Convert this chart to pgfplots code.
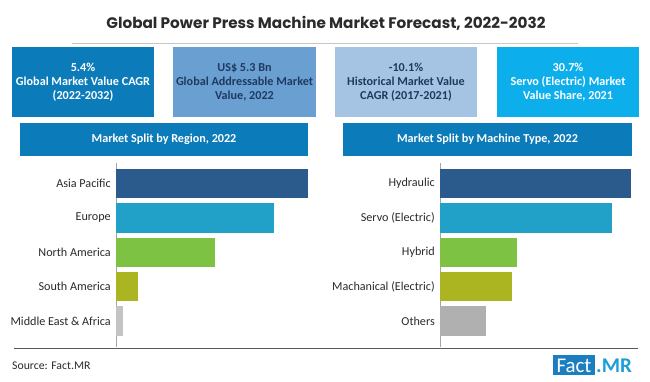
\documentclass[border=0pt]{standalone}
\usepackage{pgfplots}
\pgfplotsset{compat=1.18}
\usepackage{fontspec}
\setmainfont{Carlito}
\newfontfamily\titlefont{Poppins}
\definecolor{boxA}{HTML}{0B7BBA}
\definecolor{boxB}{HTML}{6A9FD2}
\definecolor{boxC}{HTML}{A5C4E4}
\definecolor{boxD}{HTML}{0DAEEC}
\definecolor{navy}{HTML}{1F3A5F}
\definecolor{cA}{HTML}{2A5B8C}
\definecolor{cB}{HTML}{21A0C8}
\definecolor{cC}{HTML}{7DC243}
\definecolor{cD}{HTML}{AAB521}
\definecolor{cE}{HTML}{C4C4C4}
\definecolor{logoblue}{HTML}{1B7EC0}
\definecolor{logocyan}{HTML}{1C9FD9}
\definecolor{txt}{HTML}{2B2B2B}
\pgfplotsset{
  splitbar/.style={
    xbar, bar shift=0pt, bar width=29.5bp,
    scale only axis, width=192bp, height=184bp,
    xmin=0, ymin=-0.756, ymax=4.596,
    axis y line*=left, axis x line=none,
    y axis line style={draw=gray!70, line width=0.8bp},
    xtick=\empty, ytick={0,1,2,3,4},
    major tick length=0pt,
    yticklabel style={font=\fontsize{12.2}{14}\selectfont, text=txt, inner sep=0pt, xshift=-5bp},
    clip=false,
  }
}
\begin{document}
\begin{tikzpicture}[x=1bp,y=1bp]
\fill[white] (0,0) rectangle (650,381);
% title
\node[anchor=base, font=\titlefont\bfseries\fontsize{15.3}{17}\selectfont, text=txt] at (326,353) {Global Power Press Machine Market Forecast, 2022-2032};
\draw[gray!45, line width=0.8bp] (72,338) -- (578,338);
% KPI boxes
\fill[boxA] (12,264) rectangle (154,334);
\fill[boxB] (173,264) rectangle (316,334);
\fill[boxC] (335,264) rectangle (477,334);
\fill[boxD] (497,264) rectangle (639,334);
\node[align=center, text=white, font=\bfseries\fontsize{12.2}{14}\selectfont] at (83,299) {5.4\%\\Global Market Value CAGR\\(2022-2032)};
\node[align=center, text=navy, font=\bfseries\fontsize{12.2}{14}\selectfont] at (244.5,299) {US\$ 5.3 Bn\\Global Addressable Market\\Value, 2022};
\node[align=center, text=navy, font=\bfseries\fontsize{12.2}{14}\selectfont] at (406,299) {-10.1\%\\Historical Market Value\\CAGR (2017-2021)};
\node[align=center, text=white, font=\bfseries\fontsize{12.2}{14}\selectfont] at (568,299) {30.7\%\\Servo (Electric) Market\\Value Share, 2021};
% headers
\fill[boxA] (20,225) rectangle (308,258);
\fill[boxA] (343,225) rectangle (632,258);
\node[text=white, font=\bfseries\fontsize{12.2}{14}\selectfont] at (164,241.5) {Market Split by Region, 2022};
\node[text=white, font=\bfseries\fontsize{12.2}{14}\selectfont] at (487.5,241.5) {Market Split by Machine Type, 2022};
% left chart (top category at y=4)
\begin{axis}[splitbar, at={(116bp,34bp)}, anchor=south west, xmax=192,
  yticklabels={Middle East \& Africa,South America,North America,Europe,Asia Pacific}]
\addplot[fill=cA, draw=none] coordinates {(192,4)};
\addplot[fill=cB, draw=none] coordinates {(158,3)};
\addplot[fill=cC, draw=none] coordinates {(99,2)};
\addplot[fill=cD, draw=none] coordinates {(22,1)};
\addplot[fill=cE, draw=none] coordinates {(7,0)};
\end{axis}
% right chart
\begin{axis}[splitbar, at={(440bp,34bp)}, anchor=south west, width=191bp, xmax=191,
  yticklabels={Others,Machanical (Electric),Hybrid,Servo (Electric),Hydraulic}]
\addplot[fill=cA, draw=none] coordinates {(191,4)};
\addplot[fill=cB, draw=none] coordinates {(172,3)};
\addplot[fill=cC, draw=none] coordinates {(77,2)};
\addplot[fill=cD, draw=none] coordinates {(72,1)};
\addplot[fill=cE!90!black, draw=none] coordinates {(46,0)};
\end{axis}
% footer
\draw[gray!70!black, line width=0.8bp] (14,33) -- (638,33);
\node[anchor=base west, inner sep=0pt, text=txt, font=\fontsize{11.8}{13}\selectfont] at (12,12) {Source: Fact.MR};
\fill[logoblue] (553,6) rectangle (595,26);
\node[anchor=base, inner sep=0pt, text=white, font=\fontsize{21}{22}\selectfont] at (574,9) {Fact};
\node[anchor=base west, inner sep=0pt, text=logocyan, font=\bfseries\fontsize{21}{22}\selectfont] at (596,9) {.MR};
\end{tikzpicture}
\end{document}
